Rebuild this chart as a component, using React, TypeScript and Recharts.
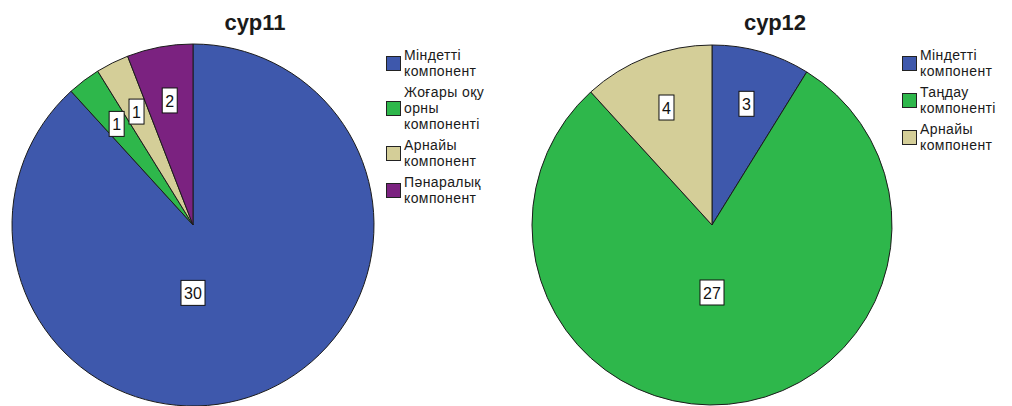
import React from 'react';
import { PieChart, Pie, Cell, Legend } from 'recharts';

const LEFT_CATEGORIES = [
  'Міндетті компонент',
  'Жоғары оқу орны компоненті',
  'Арнайы компонент',
  'Пәнаралық компонент',
];
const LEFT_VALUES = [30, 1, 1, 2];
const LEFT_COLORS = ['#3e58ac', '#2eb74b', '#d4ce98', '#7b2280'];

const RIGHT_CATEGORIES = ['Міндетті компонент', 'Таңдау компоненті', 'Арнайы компонент'];
const RIGHT_VALUES = [3, 27, 4];
const RIGHT_COLORS = ['#3e58ac', '#2eb74b', '#d4ce98'];

const FONT = '"Liberation Sans", Arial, sans-serif';
const RAD = Math.PI / 180;

function renderLabel(props: any) {
  const { cx, cy, midAngle, outerRadius, percent, value } = props;
  let x: number;
  let y: number;
  if (percent > 0.5) {
    // big slice: label sits straight below the centre, as in the original
    x = cx;
    y = cy + outerRadius * 0.375;
  } else {
    const r = outerRadius * 0.7;
    x = cx + r * Math.cos(-midAngle * RAD);
    y = cy + r * Math.sin(-midAngle * RAD);
  }
  const txt = String(value);
  const w = txt.length * 9 + 6;
  const h = 25;
  return (
    <g>
      <rect x={x - w / 2} y={y - h / 2} width={w} height={h} fill="#fff" stroke="#111" strokeWidth={1} />
      <text
        x={x}
        y={y + 1}
        textAnchor="middle"
        dominantBaseline="central"
        fontSize={16}
        fontFamily={FONT}
        fill="#111"
      >
        {txt}
      </text>
    </g>
  );
}

interface BlockProps {
  title: string;
  categories: string[];
  values: number[];
  colors: string[];
  cx: number;
  radius: number;
  legendLeft: number;
  titleCenter: number;
}

function PieBlock({ title, categories, values, colors, cx, radius, legendLeft, titleCenter }: BlockProps) {
  const data = categories.map((name, i) => ({ name, value: values[i] }));

  const legendContent = () => (
    <div style={{ fontFamily: FONT, fontSize: 14, lineHeight: '16px', color: '#1a1a1a', letterSpacing: 0.4 }}>
      {categories.map((name, i) => (
        <div key={name} style={{ display: 'flex', alignItems: 'center', marginBottom: 5 }}>
          <span
            style={{
              display: 'inline-block',
              width: 13,
              height: 13,
              background: colors[i],
              border: '1px solid #222',
              marginRight: 3,
              flexShrink: 0,
            }}
          />
          <span style={{ width: 96 }}>{name}</span>
        </div>
      ))}
    </div>
  );

  return (
    <div style={{ position: 'relative', width: 506, height: 406 }}>
      <div
        style={{
          position: 'absolute',
          left: titleCenter - 100,
          top: 12,
          width: 200,
          textAlign: 'center',
          fontFamily: FONT,
          fontWeight: 'bold',
          fontSize: 22,
          lineHeight: '22px',
          color: '#1a1a1a',
          zIndex: 2,
        }}
      >
        {title}
      </div>
      <PieChart width={506} height={406} margin={{ top: 0, right: 0, bottom: 0, left: 0 }}>
        <Pie
          data={data}
          dataKey="value"
          nameKey="name"
          cx={cx}
          cy={225}
          outerRadius={radius}
          startAngle={90}
          endAngle={-270}
          stroke="#1c1c1c"
          strokeWidth={1}
          label={renderLabel}
          labelLine={false}
          isAnimationActive={false}
        >
          {data.map((d, i) => (
            <Cell key={d.name} fill={colors[i]} />
          ))}
        </Pie>
        <Legend
          layout="vertical"
          align="right"
          verticalAlign="top"
          content={legendContent}
          wrapperStyle={{ left: legendLeft, top: 47, width: 120 }}
        />
      </PieChart>
    </div>
  );
}

export default function App() {
  return (
    <div
      style={{
        position: 'absolute',
        left: 0,
        top: 0,
        width: 1012,
        height: 406,
        background: '#fff',
        display: 'flex',
        overflow: 'hidden',
      }}
    >
      <PieBlock
        title="сур11"
        categories={LEFT_CATEGORIES}
        values={LEFT_VALUES}
        colors={LEFT_COLORS}
        cx={193}
        radius={181}
        legendLeft={386}
        titleCenter={255}
      />
      <PieBlock
        title="сур12"
        categories={RIGHT_CATEGORIES}
        values={RIGHT_VALUES}
        colors={RIGHT_COLORS}
        cx={206}
        radius={180}
        legendLeft={396}
        titleCenter={269}
      />
    </div>
  );
}
